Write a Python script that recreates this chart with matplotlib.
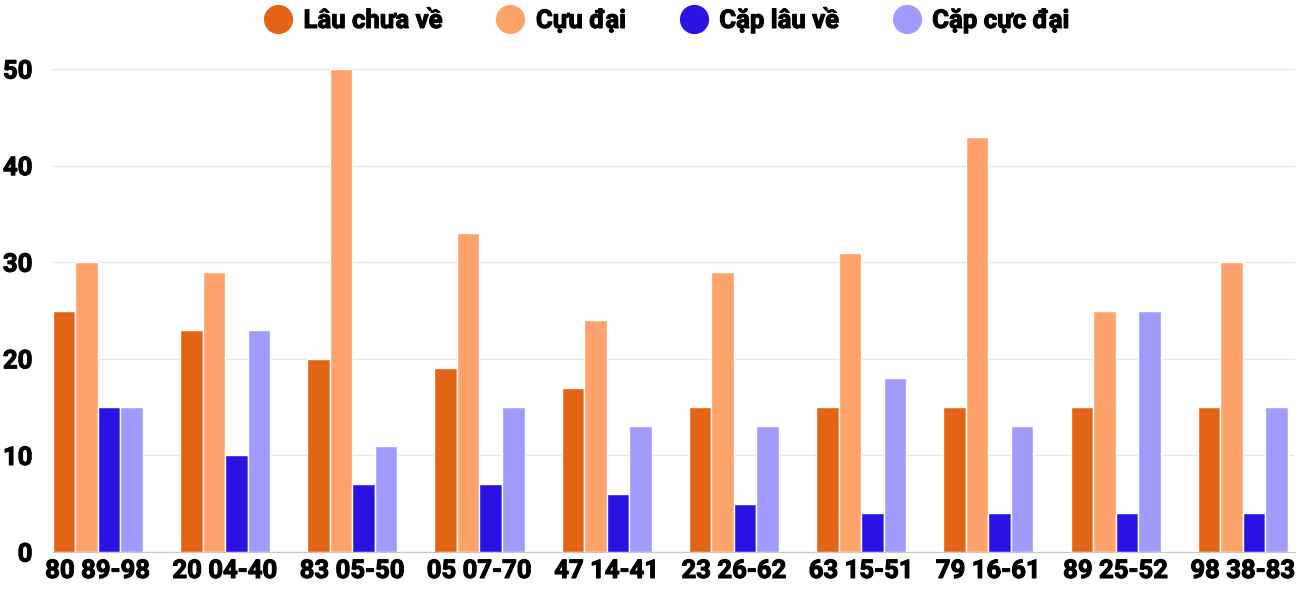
import matplotlib.pyplot as plt
import matplotlib.patheffects as pe
from matplotlib.lines import Line2D
import numpy as np

plt.rcParams['font.family'] = ['Roboto', 'DejaVu Sans']

categories = ['80 89-98', '20 04-40', '83 05-50', '05 07-70', '47 14-41',
              '23 26-62', '63 15-51', '79 16-61', '89 25-52', '98 38-83']
lau_chua_ve = [25, 23, 20, 19, 17, 15, 15, 15, 15, 15]
cuc_dai = [30, 29, 50, 33, 24, 29, 31, 43, 25, 30]
cap_lau_ve = [15, 10, 7, 7, 6, 5, 4, 4, 4, 4]
cap_cuc_dai = [15, 23, 11, 15, 13, 13, 18, 13, 25, 15]

series = [
    ('Lâu chưa về', lau_chua_ve, '#e36414'),
    ('Cựu đại', cuc_dai, '#ffa36c'),
    ('Cặp lâu về', cap_lau_ve, '#2a12e3'),
    ('Cặp cực đại', cap_cuc_dai, '#a29bfe'),
]

thick = [pe.Stroke(linewidth=0.8, foreground='black'), pe.Normal()]

fig = plt.figure(figsize=(13, 6), dpi=100)
ax = fig.add_axes([52 / 1300, 1 - 552 / 600, (1295 - 52) / 1300, (552 - 69) / 600])

x = np.arange(len(categories))
width = 0.177
for i, (name, vals, col) in enumerate(series):
    ax.bar(x + (i - 1.5) * width, vals, width, color=col, edgecolor='white',
           linewidth=1, zorder=3)

ax.set_xlim(-0.36, 9.41)
ax.set_ylim(0, 50)
ax.set_yticks([0, 10, 20, 30, 40, 50])
ax.yaxis.grid(color='#e6e6e6', linewidth=1, zorder=0)
ax.set_axisbelow(True)
for s in ['top', 'right', 'left']:
    ax.spines[s].set_visible(False)
ax.spines['bottom'].set_color('#c8c8c8')
ax.set_xticks(x)
ax.set_xticklabels(categories)
ax.tick_params(axis='both', length=0, labelsize=18.5)
ax.tick_params(axis='y', pad=14)
ax.tick_params(axis='x', pad=5)
for lbl in ax.get_xticklabels() + ax.get_yticklabels():
    lbl.set_fontweight('bold')
    lbl.set_path_effects(thick)

handles = [Line2D([], [], marker='o', linestyle='none', markersize=20,
                  markerfacecolor=col, markeredgecolor=col, label=name)
           for name, vals, col in series]
leg = fig.legend(handles=handles, loc='upper center', bbox_to_anchor=(0.5084, 1.027),
                 ncol=4, frameon=False, prop={'weight': 'bold', 'size': 18.5},
                 handletextpad=0.0, columnspacing=1.62)
for t in leg.get_texts():
    t.set_path_effects(thick)

plt.savefig('out.png', dpi=100)
